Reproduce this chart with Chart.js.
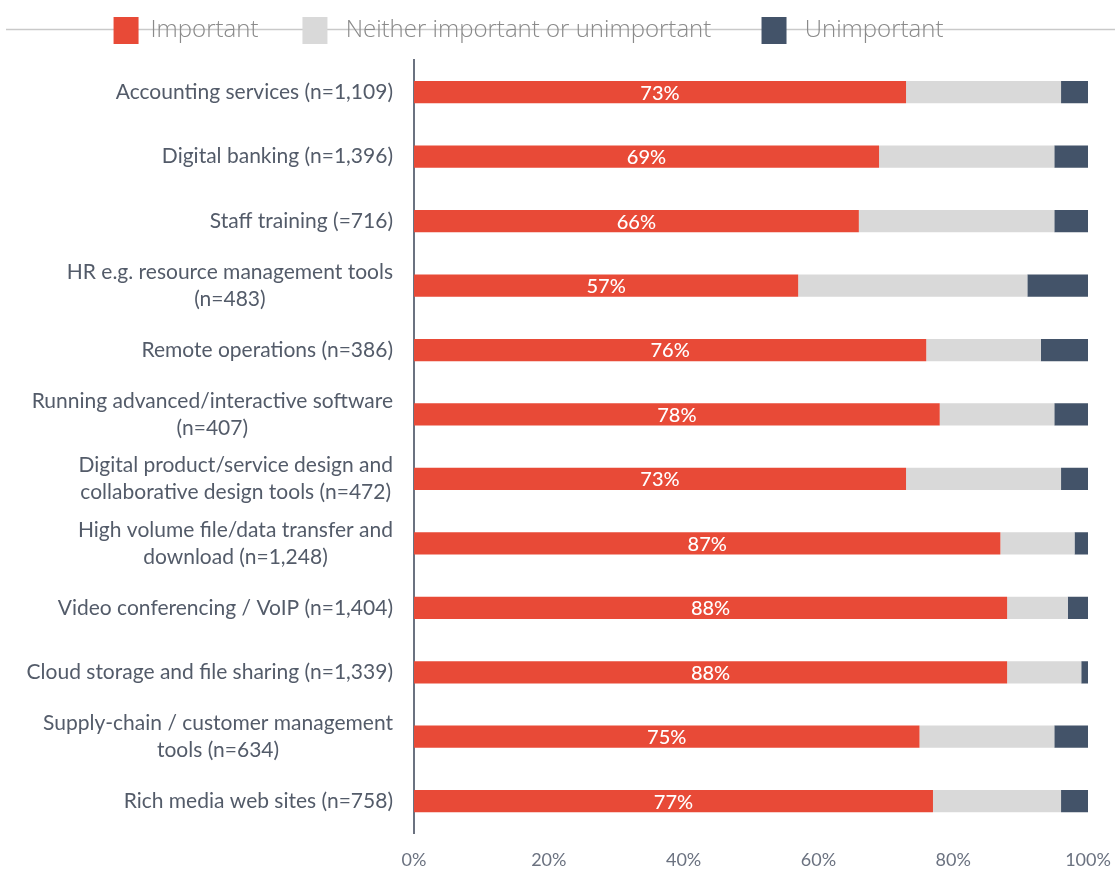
<!DOCTYPE html>
<html>
<head>
<meta charset="utf-8">
<script src="https://cdn.jsdelivr.net/npm/chart.js"></script>
<style>
  html, body { margin: 0; padding: 0; background: #fff; }
  #wrap { width: 1115px; height: 894px; }
</style>
</head>
<body>
<div id="wrap"><canvas id="importanceChart"></canvas></div>
<script>
const categories = [
    ['Accounting services (n=1,109)'],
    ['Digital banking (n=1,396)'],
    ['Staff training (=716)'],
    ['HR e.g. resource management tools', '(n=483)'],
    ['Remote operations (n=386)'],
    ['Running advanced/interactive software', '(n=407)'],
    ['Digital product/service design and', 'collaborative design tools (n=472)'],
    ['High volume file/data transfer and', 'download (n=1,248)'],
    ['Video conferencing / VoIP (n=1,404)'],
    ['Cloud storage and file sharing (n=1,339)'],
    ['Supply-chain / customer management', 'tools (n=634)'],
    ['Rich media web sites (n=758)'],
];
const important   = [73, 69, 66, 57, 76, 78, 73, 87, 88, 88, 75, 77];
const neither     = [23, 26, 29, 34, 17, 17, 23, 11,  9, 11, 20, 19];
const unimportant = [ 4,  5,  5,  9,  7,  5,  4,  2,  3,  1,  5,  4];
const xTicks = [0, 20, 40, 60, 80, 100];

const RED = '#e84a37';
const GREY = '#d9d9d9';
const NAVY = '#435369';

// legend offsets (chart.js centres it, this one sits a bit left and higher)
const LEGEND_DX = -29;
const LEGEND_DY = -6;
// extra spacing around the legend texts
const legendText = t => t === 'Important' ? t : (t === 'Unimportant' ? ' ' + t : ' ' + t + ' ');

// thin rule running behind the legend
const legendRule = {
    id: 'legendRule',
    afterLayout(chart) {
        const lg = chart.legend;
        lg.left += LEGEND_DX; lg.right += LEGEND_DX;
        lg.top += LEGEND_DY; lg.bottom += LEGEND_DY;
    },
    beforeDraw(chart) {
        const ctx = chart.ctx;
        ctx.save();
        ctx.fillStyle = '#fff';
        ctx.fillRect(0, 0, chart.width, chart.height);
        ctx.strokeStyle = '#c9c9c9';
        ctx.lineWidth = 1.5;
        ctx.beginPath();
        ctx.moveTo(6, 29.5);
        ctx.lineTo(chart.width, 29.5);
        ctx.stroke();
        ctx.restore();
    }
};

// category names: single lines right aligned, wrapped ones centred
const categoryLabels = {
    id: 'categoryLabels',
    afterDraw(chart) {
        const scale = chart.scales.y;
        const ctx = chart.ctx;
        const right = scale.right - 21;
        const lineH = 27;
        ctx.save();
        ctx.font = '21px Lato';
        ctx.fillStyle = '#535b69';
        ctx.textBaseline = 'middle';
        categories.forEach((lines, i) => {
            const y = scale.getPixelForTick(i);
            if (lines.length === 1) {
                ctx.textAlign = 'right';
                ctx.fillText(lines[0], right, y);
            } else {
                const widest = Math.max(...lines.map(l => ctx.measureText(l).width));
                const cx = right - widest / 2;
                ctx.textAlign = 'center';
                lines.forEach((l, j) => {
                    ctx.fillText(l, cx, y + (j - (lines.length - 1) / 2) * lineH);
                });
            }
        });
        ctx.restore();
    }
};

// percentage inside the red segment
const importantValues = {
    id: 'importantValues',
    afterDatasetsDraw(chart) {
        const ctx = chart.ctx;
        const meta = chart.getDatasetMeta(0);
        ctx.save();
        ctx.font = '500 20px Lato';
        ctx.fillStyle = '#fff';
        ctx.textAlign = 'center';
        ctx.textBaseline = 'middle';
        meta.data.forEach((bar, i) => {
            ctx.fillText(important[i] + '%', (bar.base + bar.x) / 2, bar.y + 1);
        });
        ctx.restore();
    }
};

const ctx = document.getElementById('importanceChart').getContext('2d');
const importanceChart = new Chart(ctx, {
    type: 'bar',
    data: {
        labels: categories,
        datasets: [
            { label: 'Important', data: important, backgroundColor: RED },
            { label: 'Neither important or unimportant', data: neither, backgroundColor: GREY },
            { label: 'Unimportant', data: unimportant, backgroundColor: NAVY },
        ],
    },
    options: {
        indexAxis: 'y',
        responsive: true,
        maintainAspectRatio: false,
        animation: false,
        layout: {
            padding: { top: -21, left: 0, right: 0, bottom: 7 }
        },
        datasets: {
            bar: { barPercentage: 0.345, categoryPercentage: 1, borderWidth: 0 }
        },
        scales: {
            x: {
                stacked: true,
                min: 0,
                max: 100,
                afterBuildTicks: scale => { scale.ticks = xTicks.map(v => ({ value: v })); },
                afterFit: scale => { scale.paddingLeft = 0; scale.paddingRight = 27; },
                grid: { display: false, drawTicks: false },
                border: { display: false },
                ticks: {
                    padding: 16,
                    color: '#6b7280',
                    font: { family: 'Lato', size: 18 },
                    callback: v => v + '%',
                },
            },
            y: {
                stacked: true,
                grid: { display: false, drawTicks: false },
                border: { display: true, color: '#6b7280', width: 2 },
                ticks: { display: false },
                afterFit: scale => { scale.width = 414; },
            },
        },
        plugins: {
            legend: {
                position: 'top',
                labels: {
                    boxWidth: 25,
                    boxHeight: 27,
                    padding: 44,
                    color: '#8a8a8a',
                    font: { family: 'Open Sans', size: 24, weight: '300' },
                    generateLabels: chart => Chart.defaults.plugins.legend.labels.generateLabels(chart)
                        .map(item => Object.assign(item, { text: legendText(item.text) })),
                },
            },
            tooltip: { enabled: true },
        },
    },
    plugins: [legendRule, categoryLabels, importantValues],
});
</script>
</body>
</html>
